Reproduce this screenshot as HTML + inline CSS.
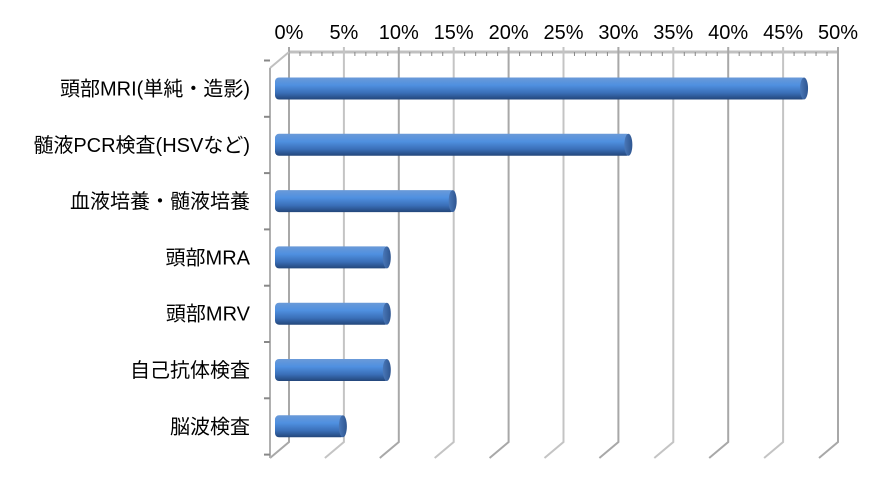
<!DOCTYPE html>
<html><head><meta charset="utf-8"><style>
body{margin:0;background:#fff;width:885px;height:481px;overflow:hidden}
svg text{font-family:"Liberation Sans","Noto Sans CJK JP",sans-serif;font-size:20px;fill:#000}
</style></head><body>
<svg id="chart" width="885" height="481" xmlns="http://www.w3.org/2000/svg">
<defs>
<linearGradient id="bg" x1="0" y1="0" x2="0" y2="1">
<stop offset="0" stop-color="#6a9ad8"/><stop offset="0.35" stop-color="#4f90e0"/><stop offset="0.7" stop-color="#3a6fb8"/><stop offset="1" stop-color="#23467a"/>
</linearGradient>
<linearGradient id="cap" x1="0" y1="0" x2="1" y2="0">
<stop offset="0" stop-color="#4a78b8"/><stop offset="1" stop-color="#2e5590"/>
</linearGradient>
</defs>
<g id="axes"></g><g id="bars"></g>
</svg>
<script>
const categories=["頭部MRI(単純・造影)","髄液PCR検査(HSVなど)","血液培養・髄液培養","頭部MRA","頭部MRV","自己抗体検査","脳波検査"];
const values=[48,32,16,10,10,10,6];
const tickLabels=["0%","5%","10%","15%","20%","25%","30%","35%","40%","45%","50%"];
const ns="http://www.w3.org/2000/svg";
const axes=document.getElementById('axes'),bars=document.getElementById('bars');
const backX0=289,backX1=838,topY=52,backBot=442,dx=-19,dy=16;
const xBack=v=>backX0+(backX1-backX0)*v/50;
const xVal=v=>279+(backX1-backX0)*v/50;
const rowY=i=>88.5+i*56.3;
function mk(t,a,p){const e=document.createElementNS(ns,t);for(const k in a)e.setAttribute(k,a[k]);(p||axes).appendChild(e);return e;}
let l=mk('line',{x1:backX0,y1:topY,x2:backX1,y2:topY,stroke:'#c0c0c0','stroke-width':3});

for(let m=0;m<=50;m++){const x=xBack(m);let t=mk('line',{x1:x,y1:topY,x2:x,y2:topY+4,stroke:'#888'});
}
tickLabels.forEach((s,i)=>{const v=i*5,x=xBack(v);
let g=mk('polyline',{points:`${x},${topY-5} ${x},${backBot} ${x+dx},${backBot+dy}`,fill:'none',stroke:i%2?'#c4c4c4':'#a8a8a8','stroke-width':2});

let t=mk('text',{x:x,y:39,'text-anchor':'middle'});t.textContent=s;
});
let s=mk('polyline',{points:`${backX0},${topY} ${backX0+dx},${topY+dy}`,fill:'none',stroke:'#c0c0c0','stroke-width':2});

let ya=mk('line',{x1:270,y1:topY+dy,x2:270,y2:backBot+dy,stroke:'#b0b0b0','stroke-width':2});

for(let i=0;i<=categories.length;i++){const y=rowY(i)-28;let t=mk('line',{x1:264,y1:y,x2:270,y2:y,stroke:'#888','stroke-width':2});
}
categories.forEach((c,i)=>{const y=rowY(i);
let t=mk('text',{x:250,y:y+7,'text-anchor':'end'});t.textContent=c;

const x0=275,x1=xVal(values[i]),h=22;
let r=mk('rect',{x:x0,y:y-h/2,width:x1-x0,height:h,rx:4,fill:'url(#bg)'},bars);

let e=mk('ellipse',{cx:x1-2,cy:y,rx:4,ry:h/2,fill:'url(#cap)'},bars);
});
</script>
</body></html>
